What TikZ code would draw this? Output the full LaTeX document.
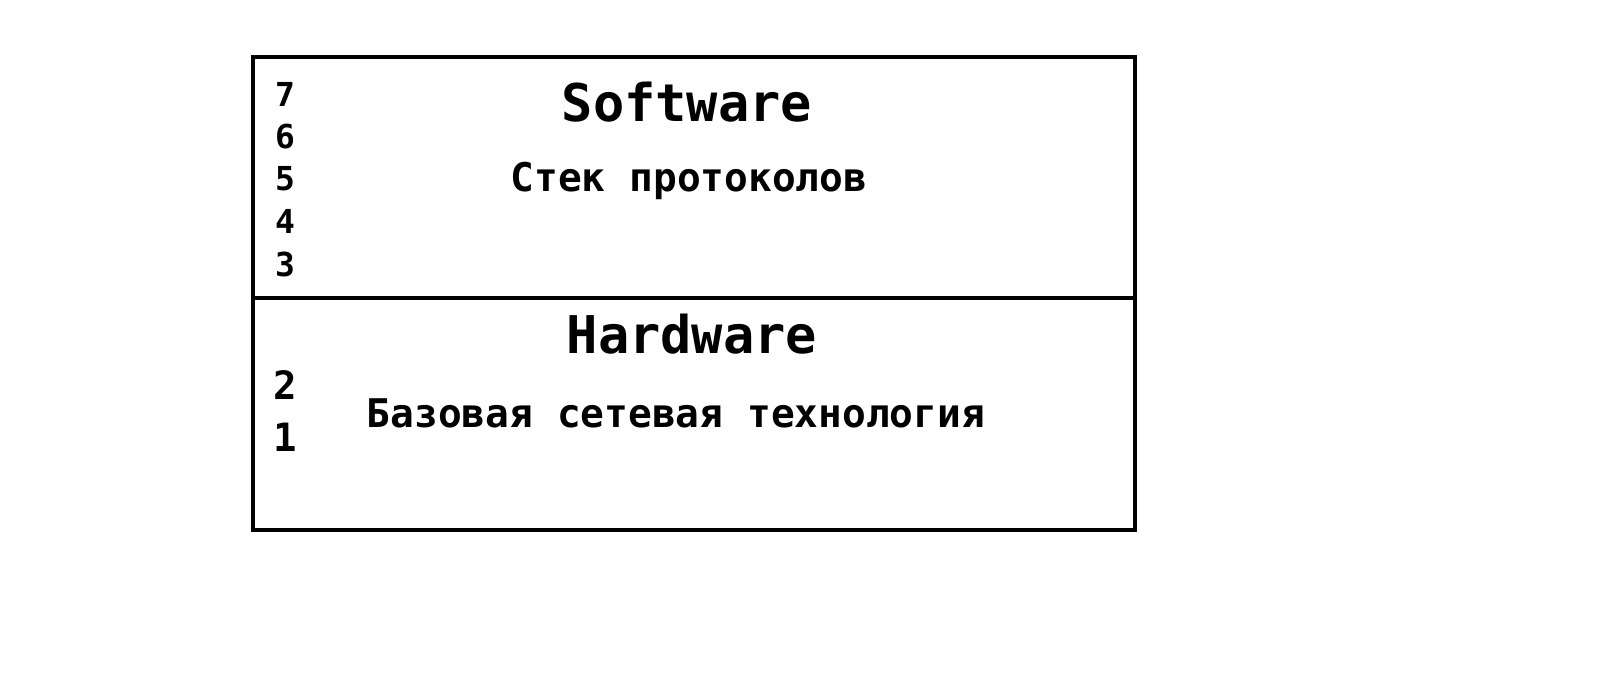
\documentclass[tikz,border=0pt]{standalone}
\usepackage{fontspec}
\setmonofont{DejaVu Sans Mono}
\tikzset{
  every node/.style={inner sep=0pt, font=\ttfamily\bfseries},
  title/.style={font=\ttfamily\bfseries\fontsize{52}{60}\selectfont},
  caption/.style={font=\ttfamily\bfseries\fontsize{39.5}{46}\selectfont},
  small num/.style={font=\ttfamily\bfseries\fontsize{33}{38}\selectfont},
  big num/.style={font=\ttfamily\bfseries\fontsize{39}{44}\selectfont},
}
\begin{document}
\begin{tikzpicture}[x=1pt, y=-1pt, line width=4.6pt]
  \useasboundingbox (0,0) rectangle (1600,674);
  % frame
  \draw (253,57) rectangle (1135,530);
  \draw (253,298) -- (1135,298);

  % software part
  \node[title] (sw) at (687,102) {Software};
  \node[caption] (stack) at (689,181) {Стек протоколов};
  \foreach \n [count=\i] in {7,6,5,4,3}
    \node[small num] (l\n) at (285,{94+42.6*(\i-1)}) {\n};

  % hardware part
  \node[title] (hw) at (692,334) {Hardware};
  \node[caption] (base) at (676,413) {Базовая сетевая технология};
  \node[big num] (l2) at (285,385) {2};
  \node[big num] (l1) at (285,437) {1};
\end{tikzpicture}
\end{document}
